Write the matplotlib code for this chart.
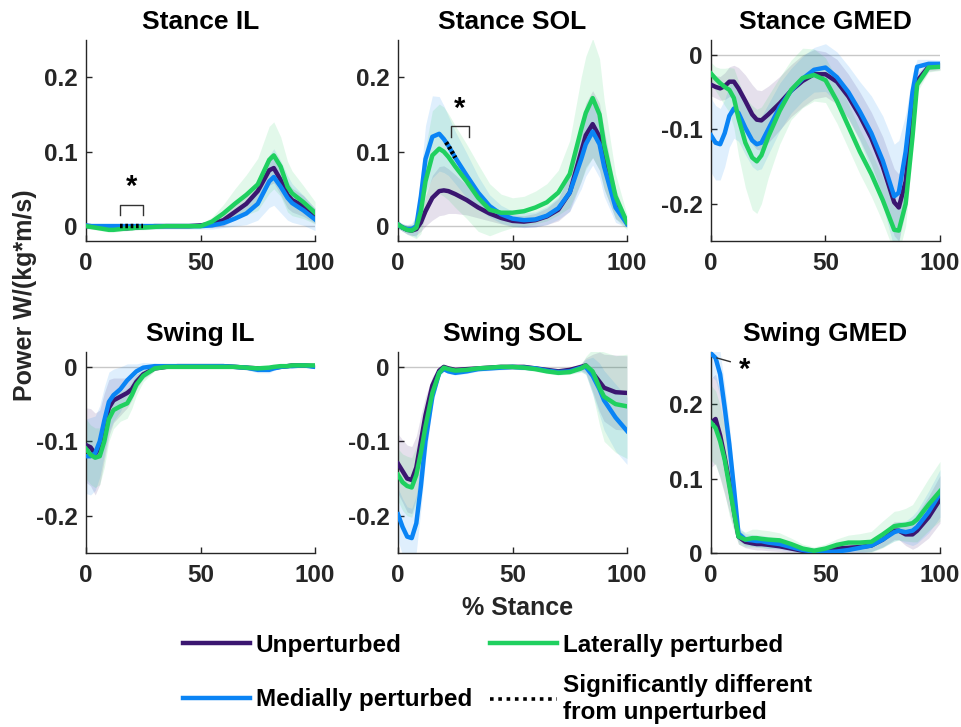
import numpy as np
import matplotlib
matplotlib.use("Agg")
import matplotlib.pyplot as plt
from matplotlib.lines import Line2D

plt.rcParams['font.family'] = ['Liberation Sans', 'DejaVu Sans']
plt.rcParams['font.weight'] = 'bold'
plt.rcParams['axes.unicode_minus'] = False

# ---------------- data ----------------
X = [0, 2, 4, 6, 8, 10, 12, 15, 18, 20, 22, 25, 30, 35, 40, 45, 50, 55, 60, 65, 70, 75, 80, 82, 85, 88, 90, 95, 100]

groups = ["Unperturbed", "Medially perturbed", "Laterally perturbed"]
titles = ["Stance IL", "Stance SOL", "Stance GMED", "Swing IL", "Swing SOL", "Swing GMED"]

# Stance IL
st_il_un = [0.0, 0.0, -0.001, -0.001, -0.002, -0.003, -0.003, -0.003, -0.003, -0.002, -0.002, -0.001, 0.0, 0.0, 0.0, 0.0, 0.001, 0.003, 0.008, 0.019, 0.03, 0.047, 0.075, 0.078, 0.062, 0.042, 0.035, 0.027, 0.014]
st_il_med = [0.001, 0.0, 0.0, 0.0, 0.0, 0.0, 0.0, 0.0, 0.0, 0.0, 0.0, 0.0, 0.0, 0.0, 0.0, 0.0, 0.0, 0.001, 0.004, 0.01, 0.017, 0.03, 0.06, 0.066, 0.053, 0.038, 0.031, 0.021, 0.009]
st_il_lat = [0.0, -0.001, -0.002, -0.003, -0.004, -0.005, -0.005, -0.004, -0.003, -0.003, -0.002, -0.002, -0.001, 0.0, 0.0, 0.0, 0.0, 0.006, 0.017, 0.03, 0.042, 0.056, 0.089, 0.095, 0.08, 0.053, 0.044, 0.032, 0.018]
st_il_un_sd = [0.003, 0.003, 0.003, 0.003, 0.003, 0.003, 0.003, 0.003, 0.003, 0.003, 0.003, 0.003, 0.003, 0.003, 0.003, 0.003, 0.003, 0.005, 0.008, 0.01, 0.012, 0.015, 0.02, 0.02, 0.02, 0.018, 0.016, 0.014, 0.01]
st_il_med_sd = [0.004, 0.004, 0.004, 0.004, 0.004, 0.004, 0.004, 0.004, 0.004, 0.004, 0.004, 0.004, 0.004, 0.004, 0.004, 0.004, 0.004, 0.005, 0.006, 0.01, 0.015, 0.022, 0.035, 0.038, 0.035, 0.03, 0.026, 0.02, 0.015]
st_il_lat_sd = [0.003, 0.003, 0.003, 0.003, 0.003, 0.003, 0.003, 0.003, 0.003, 0.003, 0.003, 0.003, 0.003, 0.003, 0.003, 0.003, 0.003, 0.006, 0.012, 0.02, 0.027, 0.035, 0.045, 0.045, 0.04, 0.034, 0.03, 0.022, 0.015]

# Stance SOL
st_sol_un = [0.002, -0.002, -0.005, -0.006, -0.004, 0.005, 0.02, 0.038, 0.047, 0.048, 0.047, 0.043, 0.035, 0.025, 0.017, 0.011, 0.007, 0.006, 0.008, 0.013, 0.022, 0.045, 0.1, 0.122, 0.137, 0.12, 0.09, 0.03, 0.004]
st_sol_med = [0.002, -0.002, -0.004, -0.004, 0.0, 0.04, 0.09, 0.12, 0.124, 0.117, 0.108, 0.092, 0.068, 0.045, 0.027, 0.016, 0.01, 0.008, 0.009, 0.014, 0.024, 0.045, 0.09, 0.11, 0.127, 0.11, 0.08, 0.025, 0.003]
st_sol_lat = [0.002, -0.002, -0.005, -0.006, -0.002, 0.02, 0.06, 0.095, 0.104, 0.1, 0.093, 0.08, 0.06, 0.038, 0.022, 0.018, 0.018, 0.02, 0.025, 0.032, 0.045, 0.07, 0.13, 0.152, 0.172, 0.15, 0.11, 0.04, 0.005]
st_sol_un_sd = [0.005, 0.005, 0.006, 0.007, 0.008, 0.012, 0.02, 0.03, 0.033, 0.033, 0.03, 0.026, 0.02, 0.014, 0.01, 0.008, 0.008, 0.008, 0.009, 0.011, 0.015, 0.025, 0.04, 0.043, 0.045, 0.045, 0.04, 0.02, 0.005]
st_sol_med_sd = [0.005, 0.005, 0.006, 0.008, 0.015, 0.03, 0.045, 0.055, 0.05, 0.045, 0.04, 0.035, 0.03, 0.022, 0.015, 0.012, 0.01, 0.01, 0.01, 0.012, 0.015, 0.025, 0.04, 0.043, 0.045, 0.045, 0.04, 0.02, 0.005]
st_sol_lat_sd = [0.005, 0.005, 0.006, 0.008, 0.015, 0.03, 0.045, 0.06, 0.06, 0.06, 0.058, 0.055, 0.05, 0.045, 0.035, 0.025, 0.02, 0.02, 0.022, 0.025, 0.03, 0.045, 0.07, 0.076, 0.08, 0.075, 0.06, 0.03, 0.01]

# Stance GMED
st_gm_un = [-0.04, -0.043, -0.045, -0.042, -0.036, -0.036, -0.045, -0.062, -0.08, -0.087, -0.088, -0.08, -0.065, -0.048, -0.035, -0.026, -0.026, -0.036, -0.056, -0.082, -0.112, -0.15, -0.198, -0.205, -0.17, -0.08, -0.035, -0.016, -0.015]
st_gm_med = [-0.108, -0.118, -0.12, -0.105, -0.082, -0.072, -0.078, -0.098, -0.115, -0.12, -0.118, -0.1, -0.07, -0.048, -0.032, -0.02, -0.017, -0.03, -0.05, -0.076, -0.105, -0.142, -0.19, -0.185, -0.13, -0.05, -0.016, -0.012, -0.012]
st_gm_lat = [-0.025, -0.032, -0.038, -0.043, -0.047, -0.058, -0.085, -0.118, -0.138, -0.143, -0.135, -0.11, -0.075, -0.047, -0.031, -0.027, -0.034, -0.062, -0.096, -0.13, -0.16, -0.195, -0.235, -0.236, -0.2, -0.11, -0.04, -0.017, -0.016]
st_gm_un_sd = [0.015, 0.015, 0.016, 0.018, 0.02, 0.022, 0.028, 0.035, 0.04, 0.04, 0.04, 0.038, 0.036, 0.035, 0.035, 0.033, 0.03, 0.03, 0.03, 0.032, 0.035, 0.04, 0.045, 0.045, 0.04, 0.025, 0.01, 0.006, 0.005]
st_gm_med_sd = [0.05, 0.05, 0.048, 0.045, 0.042, 0.04, 0.038, 0.036, 0.035, 0.035, 0.035, 0.034, 0.032, 0.03, 0.03, 0.03, 0.032, 0.034, 0.035, 0.04, 0.05, 0.06, 0.07, 0.07, 0.05, 0.025, 0.01, 0.006, 0.005]
st_gm_lat_sd = [0.015, 0.016, 0.02, 0.025, 0.03, 0.04, 0.05, 0.06, 0.07, 0.07, 0.065, 0.055, 0.045, 0.04, 0.04, 0.035, 0.03, 0.03, 0.03, 0.03, 0.03, 0.03, 0.03, 0.03, 0.03, 0.02, 0.01, 0.006, 0.005]

# Swing IL
sw_il_un = [-0.105, -0.108, -0.117, -0.108, -0.08, -0.055, -0.045, -0.04, -0.035, -0.03, -0.02, -0.01, -0.002, 0.0, 0.001, 0.001, 0.001, 0.001, 0.001, 0.0, -0.001, -0.002, -0.002, -0.001, 0.0, 0.001, 0.002, 0.002, 0.001]
sw_il_med = [-0.12, -0.12, -0.116, -0.1, -0.072, -0.047, -0.038, -0.03, -0.018, -0.012, -0.006, -0.001, 0.001, 0.001, 0.001, 0.001, 0.001, 0.001, 0.001, 0.0, -0.001, -0.004, -0.004, -0.002, 0.0, 0.001, 0.001, 0.002, 0.0]
sw_il_lat = [-0.11, -0.118, -0.122, -0.12, -0.1, -0.07, -0.058, -0.053, -0.049, -0.038, -0.024, -0.012, -0.002, 0.0, 0.0, 0.0, 0.0, 0.0, 0.0, 0.0, -0.001, -0.002, -0.001, 0.0, 0.001, 0.001, 0.002, 0.002, 0.002]
sw_il_un_sd = [0.05, 0.052, 0.055, 0.05, 0.045, 0.038, 0.03, 0.025, 0.02, 0.015, 0.01, 0.006, 0.003, 0.002, 0.002, 0.002, 0.002, 0.002, 0.002, 0.002, 0.003, 0.003, 0.003, 0.003, 0.002, 0.002, 0.002, 0.002, 0.002]
sw_il_med_sd = [0.05, 0.052, 0.05, 0.048, 0.045, 0.04, 0.035, 0.03, 0.022, 0.016, 0.01, 0.007, 0.004, 0.002, 0.002, 0.002, 0.002, 0.002, 0.002, 0.002, 0.003, 0.004, 0.004, 0.003, 0.002, 0.002, 0.002, 0.002, 0.002]
sw_il_lat_sd = [0.04, 0.04, 0.04, 0.038, 0.035, 0.03, 0.025, 0.02, 0.02, 0.018, 0.014, 0.008, 0.003, 0.002, 0.002, 0.002, 0.002, 0.002, 0.002, 0.002, 0.003, 0.004, 0.003, 0.003, 0.002, 0.002, 0.002, 0.002, 0.002]

# Swing SOL
sw_sol_un = [-0.13, -0.14, -0.15, -0.152, -0.135, -0.1, -0.065, -0.025, -0.005, 0.0, -0.002, -0.004, -0.003, -0.002, -0.001, 0.0, 0.0, 0.0, -0.002, -0.004, -0.006, -0.004, 0.0, 0.002, -0.008, -0.02, -0.028, -0.034, -0.035]
sw_sol_med = [-0.198, -0.215, -0.228, -0.23, -0.21, -0.16, -0.1, -0.04, -0.008, -0.003, -0.006, -0.008, -0.006, -0.003, -0.002, -0.001, 0.0, -0.001, -0.002, -0.005, -0.007, -0.006, -0.001, 0.0, -0.012, -0.03, -0.045, -0.068, -0.086]
sw_sol_lat = [-0.145, -0.155, -0.16, -0.162, -0.145, -0.115, -0.08, -0.035, -0.008, -0.001, -0.003, -0.005, -0.004, -0.002, -0.001, 0.0, 0.0, -0.001, -0.003, -0.006, -0.008, -0.007, -0.002, 0.002, -0.006, -0.028, -0.04, -0.05, -0.053]
sw_sol_un_sd = [0.04, 0.042, 0.045, 0.045, 0.042, 0.035, 0.025, 0.012, 0.005, 0.003, 0.003, 0.003, 0.003, 0.003, 0.003, 0.003, 0.003, 0.003, 0.003, 0.003, 0.003, 0.003, 0.005, 0.01, 0.025, 0.04, 0.045, 0.05, 0.05]
sw_sol_med_sd = [0.035, 0.038, 0.04, 0.04, 0.038, 0.032, 0.025, 0.012, 0.005, 0.003, 0.003, 0.003, 0.003, 0.003, 0.003, 0.003, 0.003, 0.003, 0.003, 0.003, 0.003, 0.003, 0.005, 0.01, 0.025, 0.035, 0.04, 0.045, 0.045]
sw_sol_lat_sd = [0.035, 0.038, 0.04, 0.04, 0.038, 0.032, 0.025, 0.012, 0.005, 0.003, 0.003, 0.003, 0.003, 0.003, 0.003, 0.003, 0.003, 0.003, 0.003, 0.003, 0.003, 0.003, 0.005, 0.012, 0.03, 0.05, 0.06, 0.065, 0.07]

# Swing GMED
sw_gm_un = [0.175, 0.18, 0.158, 0.128, 0.095, 0.057, 0.022, 0.015, 0.013, 0.012, 0.012, 0.011, 0.009, 0.006, 0.003, 0.002, 0.004, 0.006, 0.007, 0.008, 0.01, 0.018, 0.03, 0.03, 0.025, 0.025, 0.03, 0.048, 0.072]
sw_gm_med = [0.268, 0.262, 0.24, 0.195, 0.146, 0.088, 0.026, 0.018, 0.017, 0.016, 0.016, 0.014, 0.012, 0.008, 0.004, 0.002, 0.001, 0.002, 0.004, 0.007, 0.01, 0.018, 0.028, 0.03, 0.028, 0.03, 0.035, 0.055, 0.08]
sw_gm_lat = [0.175, 0.168, 0.15, 0.125, 0.09, 0.055, 0.022, 0.018, 0.02, 0.02, 0.019, 0.018, 0.017, 0.012, 0.006, 0.003, 0.006, 0.011, 0.014, 0.014, 0.015, 0.025, 0.036, 0.037, 0.038, 0.04, 0.045, 0.065, 0.083]
sw_gm_un_sd = [0.06, 0.06, 0.058, 0.05, 0.04, 0.025, 0.01, 0.008, 0.008, 0.008, 0.008, 0.008, 0.007, 0.006, 0.005, 0.005, 0.005, 0.005, 0.006, 0.007, 0.008, 0.01, 0.012, 0.012, 0.015, 0.02, 0.022, 0.028, 0.032]
sw_gm_med_sd = [0.03, 0.03, 0.03, 0.03, 0.028, 0.02, 0.01, 0.008, 0.008, 0.008, 0.008, 0.008, 0.007, 0.006, 0.005, 0.005, 0.005, 0.005, 0.006, 0.007, 0.008, 0.01, 0.012, 0.012, 0.015, 0.02, 0.022, 0.028, 0.032]
sw_gm_lat_sd = [0.05, 0.05, 0.048, 0.045, 0.04, 0.025, 0.01, 0.01, 0.012, 0.012, 0.012, 0.012, 0.01, 0.008, 0.006, 0.005, 0.006, 0.008, 0.01, 0.012, 0.014, 0.018, 0.02, 0.02, 0.022, 0.025, 0.03, 0.035, 0.04]

MEANS = [
    (st_il_un, st_il_med, st_il_lat),
    (st_sol_un, st_sol_med, st_sol_lat),
    (st_gm_un, st_gm_med, st_gm_lat),
    (sw_il_un, sw_il_med, sw_il_lat),
    (sw_sol_un, sw_sol_med, sw_sol_lat),
    (sw_gm_un, sw_gm_med, sw_gm_lat),
]
SDS = [
    (st_il_un_sd, st_il_med_sd, st_il_lat_sd),
    (st_sol_un_sd, st_sol_med_sd, st_sol_lat_sd),
    (st_gm_un_sd, st_gm_med_sd, st_gm_lat_sd),
    (sw_il_un_sd, sw_il_med_sd, sw_il_lat_sd),
    (sw_sol_un_sd, sw_sol_med_sd, sw_sol_lat_sd),
    (sw_gm_un_sd, sw_gm_med_sd, sw_gm_lat_sd),
]
YLIMS = [(-0.02, 0.25), (-0.02, 0.25), (-0.25, 0.02), (-0.25, 0.02), (-0.25, 0.02), (0.0, 0.27)]
YTICKS = [[0, 0.1, 0.2], [0, 0.1, 0.2], [-0.2, -0.1, 0], [-0.2, -0.1, 0], [-0.2, -0.1, 0], [0, 0.1, 0.2]]
XTICKS = [0, 50, 100]

# significance spans (panel index, series index, start, end)
SIG = [(0, 1, 15, 25), (1, 1, 21, 25)]

# ---------------- style ----------------
COLORS = ['#3b1670', '#0a84f5', '#1fd05f']
AXC = '#262626'

fig = plt.figure(figsize=(9.62, 7.27), dpi=100)
W, H = 962.0, 727.0
lefts = [86, 398, 711]
tops = [40, 352]
aw, ah = 229, 201

axes = []
for i in range(6):
    r, c = divmod(i, 3)
    ax = fig.add_axes([lefts[c] / W, 1 - (tops[r] + ah) / H, aw / W, ah / H])
    axes.append(ax)
    xs = np.array(X, dtype=float)
    ax.axhline(0, color='#c8c8c8', lw=1.0, zorder=1)
    for g in range(3):
        m = np.array(MEANS[i][g])
        s = np.array(SDS[i][g])
        ax.fill_between(xs, m - s, m + s, color=COLORS[g], alpha=0.13, lw=0, zorder=2)
    for g in range(3):
        ax.plot(xs, MEANS[i][g], color=COLORS[g], lw=3.2, zorder=3 + g,
                solid_joinstyle='round')
    ax.set_xlim(0, 100)
    ax.set_ylim(*YLIMS[i])
    ax.set_xticks(XTICKS)
    ax.set_yticks(YTICKS[i])
    ax.set_yticklabels(['0' if t == 0 else ('%g' % t) for t in YTICKS[i]])
    for sp in ['top', 'right']:
        ax.spines[sp].set_visible(False)
    for sp in ['left', 'bottom']:
        ax.spines[sp].set_color(AXC)
        ax.spines[sp].set_linewidth(1.0)
    ax.tick_params(direction='in', length=4, width=1, color=AXC, labelcolor=AXC,
                   labelsize=17.5)
    ax.tick_params(axis='x', pad=8)
    ax.tick_params(axis='y', pad=6)
    for lab in ax.get_xticklabels() + ax.get_yticklabels():
        lab.set_fontweight('bold')
    ax.set_title(titles[i], fontsize=19, fontweight='bold', pad=8, color='black')

# significance markers
for (pi, si, x0, x1) in SIG:
    ax = axes[pi]
    xs = np.array(X, dtype=float)
    m = np.array(MEANS[pi][si])
    xx = np.linspace(x0, x1, 12)
    yy = np.interp(xx, xs, m)
    ax.plot(xx, yy, color='black', lw=3.2, ls=(0, (0.6, 0.6)), zorder=10)

# brackets and asterisks
axes[0].plot([15, 15, 25, 25], [0.015, 0.029, 0.029, 0.015], color='#333333', lw=1.0, zorder=10)
axes[0].text(20, 0.034, '*', ha='center', va='bottom', fontsize=21, fontweight='bold')
axes[1].plot([23, 23, 31, 31], [0.12, 0.134, 0.134, 0.12], color='#333333', lw=1.0, zorder=10)
axes[1].text(27, 0.139, '*', ha='center', va='bottom', fontsize=21, fontweight='bold')
axes[5].plot([2.6, 8.4], [0.262, 0.257], color='#333333', lw=1.0, zorder=10, clip_on=False)
axes[5].text(12.0, 0.265, '*', ha='left', va='top', fontsize=21, fontweight='bold')

# axis labels
fig.text(25 / W, 1 - 295 / H, 'Power W/(kg*m/s)', rotation=90, ha='center', va='center',
         fontsize=18, fontweight='bold', color=AXC)
fig.text(518 / W, 1 - 608 / H, '% Stance', ha='center', va='center',
         fontsize=18, fontweight='bold', color=AXC)

# legend (two columns, each its own legend so rows line up as in the reference)
h_un = Line2D([], [], color=COLORS[0], lw=3.2)
h_med = Line2D([], [], color=COLORS[1], lw=3.2)
h_lat = Line2D([], [], color=COLORS[2], lw=3.2)
h_sig = Line2D([], [], color='black', lw=2.6, ls=(0, (1.0, 1.3)))
common = dict(loc='upper left', frameon=False, fontsize=17.5, handlelength=2.75,
              handletextpad=0.25, borderpad=0, borderaxespad=0)
leg1 = fig.legend([h_un, h_med], ['Unperturbed', 'Medially perturbed'],
                  bbox_to_anchor=(183 / W, 1 - 634 / H), labelspacing=1.28, **common)
leg2 = fig.legend([h_lat, h_sig], ['Laterally perturbed',
                                   'Significantly different\nfrom unperturbed'],
                  bbox_to_anchor=(490 / W, 1 - 634 / H), labelspacing=0.7, **common)
for leg in (leg1, leg2):
    for t in leg.get_texts():
        t.set_fontweight('bold')
        t.set_color('black')

fig.savefig('out.png', dpi=100)
